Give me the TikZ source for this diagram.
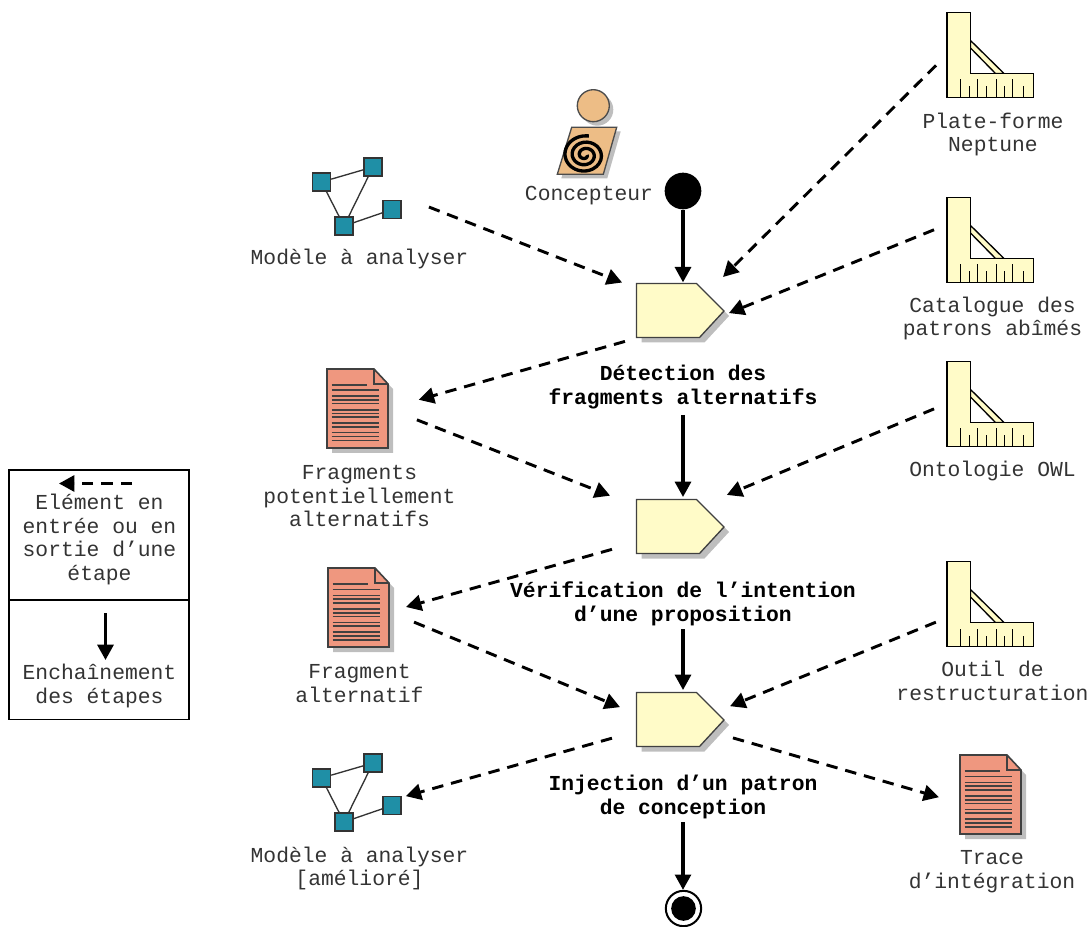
\documentclass[tikz,border=0pt]{standalone}
\usepackage{fontspec}
\setmonofont{Liberation Mono}
\usetikzlibrary{arrows.meta}
\definecolor{stepyellow}{HTML}{FFFBC8}
\definecolor{docsalmon}{HTML}{EF977F}
\definecolor{graphteal}{HTML}{1F8FA6}
\definecolor{actorskin}{HTML}{EDBD86}
\definecolor{shadowgray}{HTML}{BEBEBE}
\tikzset{
	stepshape/.pic = {
		\fill [shadowgray, shift={(5,5)}] (-44,-27) -- (16,-27) -- (43.5,.5) -- (19,27) -- (-44,27) -- cycle;
		\draw [fill=stepyellow, line width=1pt, draw=black!75] (-44,-27) -- (16,-27) -- (43.5,.5) -- (19,27) -- (-44,27) -- cycle;
	},
	rulershape/.pic = {
		\draw [fill=stepyellow, line width=1pt] (-20,-14) -- (13.5,19) -- (5,19) -- (-20,-6.5) -- cycle;
		\draw [fill=stepyellow, line width=1pt] (-43.5,-42) -- (-20,-42) -- (-20,19) -- (43,19) -- (43,43) -- (-43.5,43) -- cycle;
		\foreach \tx in {-30.5,-13,5.5,22} \draw [line width=.6pt] (\tx,43) -- (\tx,25);
		\foreach \tx in {-21,-4.5,13.5,33} \draw [line width=.6pt] (\tx,43) -- (\tx,32);
	},
	docshape/.pic = {
		\fill [shadowgray, shift={(5,5)}] (-30.5,-39.5) -- (16.5,-39.5) -- (30.5,-24.5) -- (30.5,39.5) -- (-30.5,39.5) -- cycle;
		\draw [fill=docsalmon, line width=1.2pt, draw=black!75] (-30.5,-39.5) -- (16.5,-39.5) -- (30.5,-24.5) -- (30.5,39.5) -- (-30.5,39.5) -- cycle;
		\draw [line width=1pt, draw=black!75] (16.5,-39.5) -- (16.5,-24.5) -- (30.5,-24.5);
		\draw [line width=1.2pt, draw=black!75] (-26,-23.5) -- (9.8,-23.5);
		\foreach \ty in {-18.2,-12.2,-8.5,-4.8,1.5,5.2,8.8,14.8,18.5,24.2,28.2,32.2}
			\draw [line width=1.2pt, draw=black!75] (-26,\ty) -- (21.8,\ty);
	},
	graphshape/.pic = {
		\node (a) [graphsq] at (-35.5,-14.5) {};
		\node (b) [graphsq] at (16,-29.5) {};
		\node (c) [graphsq] at (35,13) {};
		\node (d) [graphsq] at (-13,29.5) {};
		\draw [line width=1pt, draw=black!80] (a) -- (b) (a) -- (d) (b) -- (d) (c) -- (d);
	},
	actorshape/.pic = {
		\fill [shadowgray, shift={(4,4)}] (6.3,-26.3) circle (16);
		\draw [fill=actorskin, line width=1pt, draw=black!70] (6.3,-26.3) circle (16);
		\fill [shadowgray, shift={(4,4)}] (-15.3,-4.7) -- (29.7,-4.7) -- (16.3,42.3) -- (-29.7,42.3) -- cycle;
		\draw [fill=actorskin, line width=1pt, draw=black!70] (-15.3,-4.7) -- (29.7,-4.7) -- (16.3,42.3) -- (-29.7,42.3) -- cycle;
		\draw [line width=2.5pt, shift={(-2,23)}] plot [smooth, domain=0:1000, samples=70] ({cos(\x)*(2+\x/50)}, {.88*sin(\x)*(2+\x/50)});
	}
}
\begin{document}
\begin{tikzpicture}[
		x=.75pt,y=-.75pt,
		inp/.style = {-{Triangle[length=11.5pt,width=12pt]}, line width=2.2pt, dash pattern=on 8.6pt off 6pt},
		seq/.style = {-{Triangle[length=11.5pt,width=12pt]}, line width=2.3pt},
		stepbox/.style = {rectangle, inner sep=0pt, outer sep=0pt, minimum width=65.25pt, minimum height=41.25pt},
		rulerbox/.style = {rectangle, inner sep=0pt, outer sep=0pt, minimum width=65.25pt, minimum height=63.75pt},
		docbox/.style = {rectangle, inner sep=0pt, outer sep=0pt, minimum width=45.75pt, minimum height=59.25pt},
		graphbox/.style = {rectangle, inner sep=0pt, outer sep=0pt, minimum width=67.5pt, minimum height=57.75pt},
		graphsq/.style = {rectangle, draw=black!80, fill=graphteal, line width=1pt, inner sep=0pt, minimum size=13.5pt},
		lbl/.style = {inner sep=0pt, align=center, text=black!80, font=\ttfamily\fontsize{16}{17.6}\selectfont},
		lblbold/.style = {inner sep=0pt, align=center, font=\ttfamily\bfseries\fontsize{16}{17.6}\selectfont}
	]
	\useasboundingbox (0,0) rectangle (1090,927);
	% steps
	\node (stepDetection) [stepbox] at (680.5,310.5) {};
	\node (stepVerification) [stepbox] at (680.5,526.5) {};
	\node (stepInjection) [stepbox] at (680.5,719.5) {};
	\pic at (stepDetection) {stepshape};
	\pic at (stepVerification) {stepshape};
	\pic at (stepInjection) {stepshape};
	\node (lblDetection) [lblbold] at (683,387) {Détection des\\fragments alternatifs};
	\node (lblVerification) [lblbold] at (683,604) {Vérification de l’intention\\d’une proposition};
	\node (lblInjection) [lblbold] at (683,797) {Injection d’un patron\\de conception};
	% tools
	\node (rulerNeptune) [rulerbox] at (990.5,54.5) {};
	\node (rulerCatalogue) [rulerbox] at (990.5,239.5) {};
	\node (rulerOntologie) [rulerbox] at (990.5,403.5) {};
	\node (rulerOutil) [rulerbox] at (990.5,603.5) {};
	\pic at (rulerNeptune) {rulershape};
	\pic at (rulerCatalogue) {rulershape};
	\pic at (rulerOntologie) {rulershape};
	\pic at (rulerOutil) {rulershape};
	\node (lblNeptune) [lbl] at (993,134.5) {Plate-forme\\Neptune};
	\node (lblCatalogue) [lbl] at (992.5,318.5) {Catalogue des\\patrons abîmés};
	\node (lblOntologie) [lbl] at (992.5,471) {Ontologie OWL};
	\node (lblOutil) [lbl] at (992.5,681) {Outil de\\restructuration};
	% documents
	\node (docFragments) [docbox] at (357.5,408.5) {};
	\node (docFragment) [docbox] at (358.5,607.5) {};
	\node (docTrace) [docbox] at (990.5,794.5) {};
	\pic at (docFragments) {docshape};
	\pic at (docFragment) {docshape};
	\pic at (docTrace) {docshape};
	\node (lblFragments) [lbl] at (359.5,496) {Fragments\\potentiellement\\alternatifs};
	\node (lblFragment) [lbl] at (359.5,683.5) {Fragment\\alternatif};
	\node (lblTrace) [lbl] at (992,871.5) {Trace\\d’intégration};
	% models
	\node (graphModele) [graphbox] at (357,196.5) {};
	\node (graphAmeliore) [graphbox] at (357,792.5) {};
	\pic (gm) at (graphModele) {graphshape};
	\pic (ga) at (graphAmeliore) {graphshape};
	\node (lblModele) [lbl] at (359.5,259) {Modèle à analyser};
	\node (lblAmeliore) [lbl] at (359.5,868.5) {Modèle à analyser\\{[}amélioré{]}};
	% actor and states
	\node (actorConcepteur) [rectangle, inner sep=0pt, minimum width=45pt, minimum height=63pt] at (587,132) {};
	\pic at (actorConcepteur) {actorshape};
	\node (lblConcepteur) [lbl] at (589,196) {Concepteur};
	\node (start) [circle, fill=black, inner sep=0pt, minimum size=27.5pt] at (683,191) {};
	\node (stop) [circle, draw=black, fill=white, line width=1.5pt, inner sep=0pt, minimum size=26.5pt] at (683.5,908.5) {};
	\node (stopDot) [circle, fill=black, inner sep=0pt, minimum size=18.5pt] at (stop) {};
	% legend
	\node (legendIn) [rectangle, draw, line width=1.2pt, inner sep=0pt, minimum width=135pt, minimum height=97.5pt] at (99,535) {};
	\node (legendSeq) [rectangle, draw, line width=1.2pt, inner sep=0pt, minimum width=135pt, minimum height=89.25pt] at (99,660) {};
	\node (lblLegendIn) [lbl] at (99.5,539.5) {Elément en\\entrée ou en\\sortie d’une\\étape};
	\node (lblLegendSeq) [lbl] at (99.5,686) {Enchaînement\\des étapes};
	\coordinate (legendInA) at (132,483.5);
	\coordinate (legendInB) at (59,483.5);
	\coordinate (legendSeqA) at (105.5,613);
	\coordinate (legendSeqB) at (105.5,660);

	\path [inp] (legendInA) edge (legendInB);
	\path [seq] (legendSeqA) edge (legendSeqB);
	\path [inp] (graphModele.east) edge [shorten <=21.7pt, shorten >=12pt] (stepDetection.153);
	\path [inp] (rulerNeptune.west) edge [shorten <=11.6pt, shorten >=6.4pt] (stepDetection.37);
	\path [inp] (rulerCatalogue.161) edge [shorten <=10.5pt, shorten >=4pt] (stepDetection.-6);
	\path [inp] (stepDetection.south west) edge [shorten <=9.4pt, shorten >=24pt] (docFragments.east);
	\path [inp] (docFragments.east) edge [shorten <=23.3pt, shorten >=21.7pt] (stepVerification.155);
	\path [inp] (rulerOntologie.west) edge [shorten <=10.5pt, shorten >=8pt] (stepVerification.37);
	\path [inp] (stepVerification.200) edge [shorten <=19.5pt, shorten >=13.3pt] (docFragment.-8);
	\path [inp] (docFragment.-8) edge [shorten <=20.3pt, shorten >=13.8pt] (stepInjection.173);
	\path [inp] (rulerOutil.198) edge [shorten <=9pt, shorten >=4.9pt] (stepInjection.14);
	\path [inp] (stepInjection.195) edge [shorten <=19.5pt, shorten >=3pt] (graphAmeliore.-6);
	\path [inp] (stepInjection.-20) edge [shorten <=7pt, shorten >=16.4pt] (docTrace.196);
	\path [seq] (start.south) edge [shorten >=.5pt] (start.south |- stepDetection.north);
	\path [seq] (lblDetection.south) edge [shorten <=4.5pt, shorten >=1.5pt] (lblDetection.south |- stepVerification.north);
	\path [seq] (lblVerification.south) edge [shorten <=2.5pt, shorten >=1.5pt] (lblVerification.south |- stepInjection.north);
	\path [seq] (lblInjection.south) edge [shorten <=2.5pt] (lblInjection.south |- stop.north);
\end{tikzpicture}
\end{document}
